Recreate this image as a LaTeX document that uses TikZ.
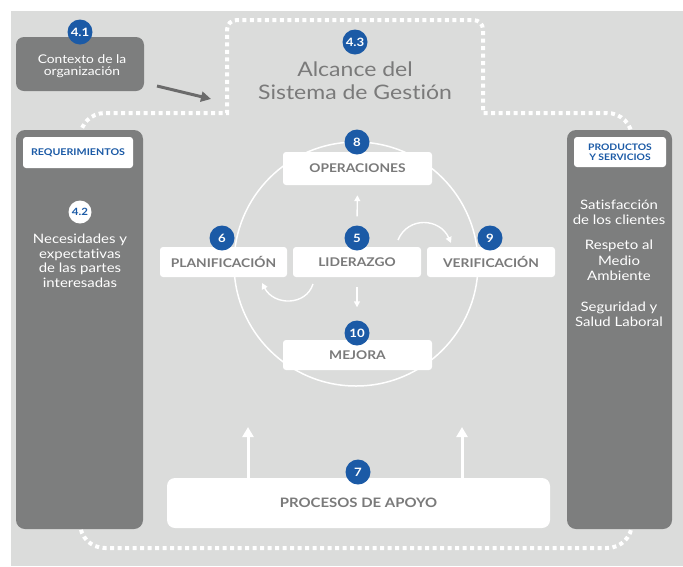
\documentclass[tikz,border=0pt]{standalone}
\usepackage{fontspec}
\setmainfont{Lato}[FakeStretch=1.15, Ligatures=NoCommon]
\usetikzlibrary{arrows.meta}
\definecolor{bggray}{RGB}{219,220,219}
\definecolor{panelgray}{RGB}{125,126,126}
\definecolor{badgeblue}{RGB}{27,90,166}
\definecolor{labelgray}{RGB}{122,122,122}
\definecolor{arrowgray}{RGB}{107,107,107}
\tikzset{
  panel/.style={fill=panelgray, rounded corners=9pt},
  tagbox/.style={fill=white, rounded corners=3pt},
  stagebox/.style={fill=white, rounded corners=3pt, inner sep=0pt, font=\fontsize{12}{14}\selectfont\bfseries, text=labelgray},
  badge/.style={circle, fill=badgeblue, minimum size=25pt, inner sep=0pt, text=white, font=\fontsize{11.5}{12}\selectfont\bfseries},
  wbadge/.style={circle, fill=white, minimum size=23pt, inner sep=0pt, text=badgeblue, font=\fontsize{10}{12}\selectfont\bfseries},
  dotline/.style={white, line width=4pt, dash pattern=on 4pt off 3.5pt},
  wtext/.style={text=white, align=center},
  wline/.style={white, line width=1.4pt, -{Triangle[length=6pt,width=6pt]}},
  bigarrow/.style={white, line width=3pt, -{Triangle[length=10pt,width=11pt]}},
}
\begin{document}
\begin{tikzpicture}[x=1pt,y=-1pt]
\useasboundingbox (0,0) rectangle (683,566);
\fill[bggray] (11,11) rectangle (683,566);

% dotted scope outline
\draw[dotline] (80,330) -- (80,138) .. controls (80,124) and (91,113) .. (105,113) -- (227,113)
  -- (227,30) .. controls (227,24) and (231,20) .. (237,20) -- (473,20)
  .. controls (479,20) and (483,24) .. (483,30) -- (483,113) -- (607,113)
  .. controls (621,113) and (632,124) .. (632,138) -- (632,523)
  .. controls (632,537) and (621,548) .. (607,548) -- (105,548)
  .. controls (91,548) and (80,537) .. (80,523) -- cycle;

% 4.1 context box
\fill[panel, rounded corners=8pt] (16,37) rectangle (144,91);
\node[wtext, font=\fontsize{12}{12.5}\selectfont] (ctx) at (82,66) {Contexto de la\\organización};
\node[badge] (b41) at (80,32) {4.1};
\coordinate (ctxa) at (157,86);
\coordinate (ctxb) at (211,99);
\draw[arrowgray, line width=3pt, -{Triangle[length=10pt,width=10pt]}] (ctxa) -- (ctxb);

% 4.3 scope title
\node[badge] (b43) at (355,42) {4.3};
\node[text=labelgray, align=center, font=\fontsize{20}{23}\selectfont] (scope) at (355,81) {Alcance del\\Sistema de Gestión};

% left panel
\fill[panel] (16,130) rectangle (143,529);
\node[tagbox, minimum width=110pt, minimum height=31pt, inner sep=0pt, text=badgeblue, font=\fontsize{9.3}{10}\selectfont\bfseries] (req) at (78,152.5) {REQUERIMIENTOS};
\node[wbadge] (b42) at (80,212) {4.2};
\node[wtext, font=\fontsize{13}{14.5}\selectfont] (nec) at (80,261) {Necesidades y\\expectativas\\de las partes\\interesadas};

% right panel
\fill[panel] (567,130) rectangle (672,529);
\node[tagbox, minimum width=92pt, minimum height=30pt, inner sep=0pt, text=badgeblue, align=center, font=\fontsize{9}{9.5}\selectfont\bfseries] (prod) at (620,152) {PRODUCTOS\\Y SERVICIOS};
\node[wtext, font=\fontsize{13}{15}\selectfont] (sat) at (619,212.5) {Satisfacción\\de los clientes};
\node[wtext, font=\fontsize{13}{15.5}\selectfont] (resp) at (619,260.5) {Respeto al\\Medio\\Ambiente};
\node[wtext, font=\fontsize{13}{15}\selectfont] (seg) at (619,314.5) {Seguridad y\\Salud Laboral};

% cycle circle
\draw[white, line width=1.5pt] (356,264) circle[radius=122];

% stage boxes
\node[stagebox, minimum width=149pt, minimum height=33pt] (op) at (357.5,168.5) {OPERACIONES};
\node[stagebox, minimum width=127pt, minimum height=30pt] (plan) at (223.5,262) {PLANIFICACIÓN};
\node[stagebox, minimum width=128pt, minimum height=30pt] (lid) at (357,262) {LIDERAZGO};
\node[stagebox, minimum width=128pt, minimum height=30pt] (ver) at (491,262) {VERIFICACIÓN};
\node[stagebox, minimum width=149pt, minimum height=30pt] (mej) at (357.5,355) {MEJORA};
\node[stagebox, minimum width=383pt, minimum height=50pt, rounded corners=8pt, font=\fontsize{13}{14}\selectfont\bfseries] (apoyo) at (358.5,503) {PROCESOS DE APOYO};

% badges
\node[badge] (b8) at (357,142) {8};
\node[badge] (b6) at (222,238) {6};
\node[badge] (b5) at (357,238) {5};
\node[badge] (b9) at (490,238) {9};
\node[badge] (b10) at (357,333) {10};
\node[badge] (b7) at (358,472) {7};

% inner arrows
\draw[wline, shorten <=9pt, shorten >=10pt] (b5.north) -- (op.south);
\draw[wline, shorten <=10pt, shorten >=13pt] (lid.south) -- (b10.north);
\coordinate (cr1) at (398,240);
\coordinate (cr2) at (451,243);
\draw[wline] (cr1) .. controls (408,216) and (440,218) .. (cr2);
\coordinate (cl1) at (313,284);
\coordinate (cl2) at (262,283);
\draw[wline] (cl1) .. controls (306,306) and (274,306) .. (cl2);

% support arrows
\coordinate (ua1) at (248,478);
\coordinate (ua2) at (248,427);
\coordinate (ub1) at (462,478);
\coordinate (ub2) at (462,427);
\draw[bigarrow] (ua1) -- (ua2);
\draw[bigarrow] (ub1) -- (ub2);
\end{tikzpicture}
\end{document}
